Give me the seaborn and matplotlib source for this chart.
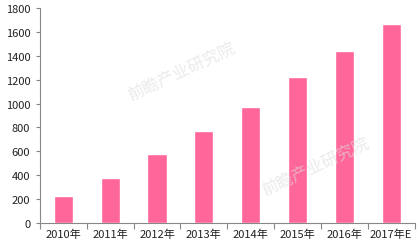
import matplotlib
matplotlib.use("Agg")
import matplotlib.pyplot as plt
import seaborn as sns
import pandas as pd

years = ["2010年", "2011年", "2012年", "2013年", "2014年", "2015年", "2016年", "2017年E"]
values = [226, 377, 580, 770, 971, 1222, 1440, 1666]
yticks = [0, 200, 400, 600, 800, 1000, 1200, 1400, 1600, 1800]

sns.set_theme(style="white")
plt.rcParams['font.family'] = ['Noto Sans CJK SC', 'DejaVu Sans']

df = pd.DataFrame({"year": years, "value": values})

fig = plt.figure(figsize=(4.18, 2.51), dpi=100)
ax = fig.add_axes([0.0957, 0.108, 0.896, 0.856])

sns.barplot(data=df, x="year", y="value", color="#FF6699", saturation=1,
            width=0.41, ax=ax, zorder=3)

ax.set_xlim(-0.5, len(years) - 0.5)
ax.set_ylim(0, 1800)
ax.set_yticks(yticks)
ax.set_yticklabels([str(t) for t in yticks], fontsize=8, color="#222222")
ax.set_xlabel("")
ax.set_ylabel("")

ax.set_xticks([i for i in range(len(years))])
ax.set_xticklabels(years, fontsize=8, color="#222222")
ax.set_xticks([i - 0.5 for i in range(len(years) + 1)], minor=True)
ax.tick_params(axis="x", which="major", length=0, pad=4)
ax.tick_params(axis="x", which="minor", length=4, color="#888888", width=0.8,
               direction="out", bottom=True)
ax.tick_params(axis="y", length=3, color="#888888", width=0.8, direction="out",
               pad=4, left=True)

for side in ["top", "right"]:
    ax.spines[side].set_visible(False)
for side in ["left", "bottom"]:
    ax.spines[side].set_color("#888888")
    ax.spines[side].set_linewidth(0.8)

# faint watermarks, kept inside the figure
for (x, y) in [(0.30, 0.60), (0.62, 0.22)]:
    fig.text(x, y, "前瞻产业研究院", fontsize=12, color="#dddddd", alpha=0.6,
             rotation=25, family=['Noto Sans CJK SC', 'DejaVu Sans'], zorder=0)

fig.savefig("out.png", dpi=100)
